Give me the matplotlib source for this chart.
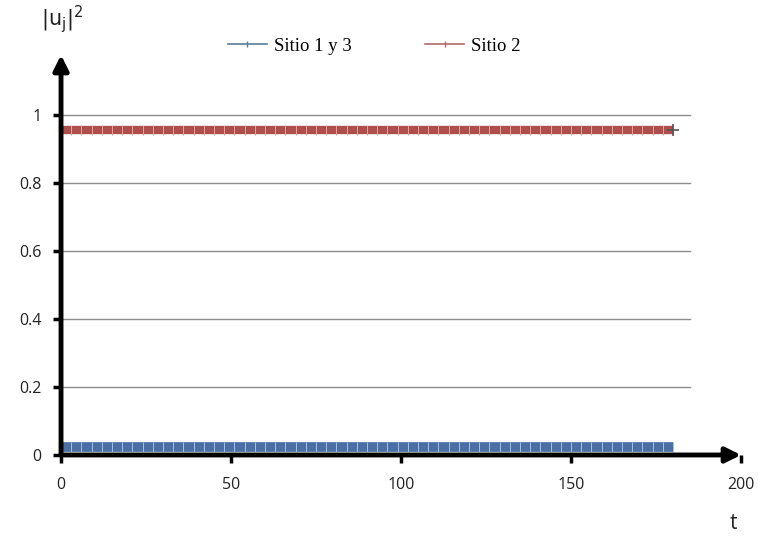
import numpy as np
import matplotlib
matplotlib.use("Agg")
import matplotlib.pyplot as plt
from matplotlib.lines import Line2D

# Occupation probability |u_j|^2 at each site over time
t = list(np.arange(0, 180.5, 1.0))
sitio_1_3 = [0.0225] * len(t)
sitio_2 = [0.955] * len(t)

x_ticks = [0, 50, 100, 150, 200]
y_ticks = [0, 0.2, 0.4, 0.6, 0.8, 1]
y_tick_labels = ["0", "0.2", "0.4", "0.6", "0.8", "1"]

blue = "#4A6FA5"
red = "#AE4F4D"

fig = plt.figure(figsize=(7.59, 5.38), dpi=100)
ax = fig.add_axes([0.0804, 0.1543, 0.8959, 0.7435])
ax.set_xlim(0, 200)
ax.set_ylim(0, 1.176)

# horizontal gridlines
for yv in y_ticks[1:]:
    ax.plot([0, 185], [yv, yv], color="#8C8C8C", lw=1.0, zorder=1)

ax.plot(t, sitio_1_3, color=blue, lw=7, marker="|", ms=7, mew=0.7,
        mec="#A9BEDB", markevery=3, zorder=3, solid_capstyle="butt")
ax.plot(t, sitio_2, color=red, lw=6, marker="|", ms=7, mew=0.7,
        mec="#E3A3A1", markevery=3, zorder=3, solid_capstyle="butt")
ax.plot([t[-1]], [sitio_2[-1]], marker="+", ms=9, mew=1.2, color="#555555", zorder=4)

for s in ax.spines.values():
    s.set_visible(False)

# axes drawn as arrows
ax.annotate("", xy=(1.0, 0), xytext=(0, 0), xycoords="axes fraction",
            arrowprops=dict(arrowstyle="-|>,head_length=0.9,head_width=0.45",
                            lw=3.5, color="black", fill=False, shrinkA=0, shrinkB=0),
            annotation_clip=False)
ax.annotate("", xy=(0, 1.0), xytext=(0, 0), xycoords="axes fraction",
            arrowprops=dict(arrowstyle="-|>,head_length=0.9,head_width=0.45",
                            lw=3.5, color="black", fill=False, shrinkA=0, shrinkB=0),
            annotation_clip=False)

ax.set_xticks(x_ticks)
ax.set_xticklabels([str(v) for v in x_ticks])
ax.set_yticks(y_ticks)
ax.set_yticklabels(y_tick_labels)
ax.tick_params(axis="both", direction="out", length=6, width=2.5, color="black",
               labelsize=11.5, pad=8)
ax.tick_params(axis="x", pad=10)
for lab in ax.get_xticklabels() + ax.get_yticklabels():
    lab.set_fontfamily("Open Sans")
    lab.set_color("#222222")

fig.text(0.054, 0.965, r"$|\mathrm{u_j}|^2$", fontsize=15, ha="left", va="center",
         color="#222222")
fig.text(0.966, 0.027, "t", fontsize=15, ha="center", va="center",
         family="Open Sans", color="#222222")

handles = [
    Line2D([], [], color="#5A7D9A", lw=1.2, marker="|", ms=5, mew=1),
    Line2D([], [], color="#B06A6A", lw=1.2, marker="|", ms=5, mew=1),
]
fig.legend(handles, ["Sitio 1 y 3", "Sitio 2"], loc="center",
           bbox_to_anchor=(0.493, 0.914), ncol=2, frameon=False,
           prop={"family": "Liberation Serif", "size": 13.5},
           handlelength=2.1, columnspacing=3.9, handletextpad=0.37)

fig.savefig("out.png", dpi=100)
